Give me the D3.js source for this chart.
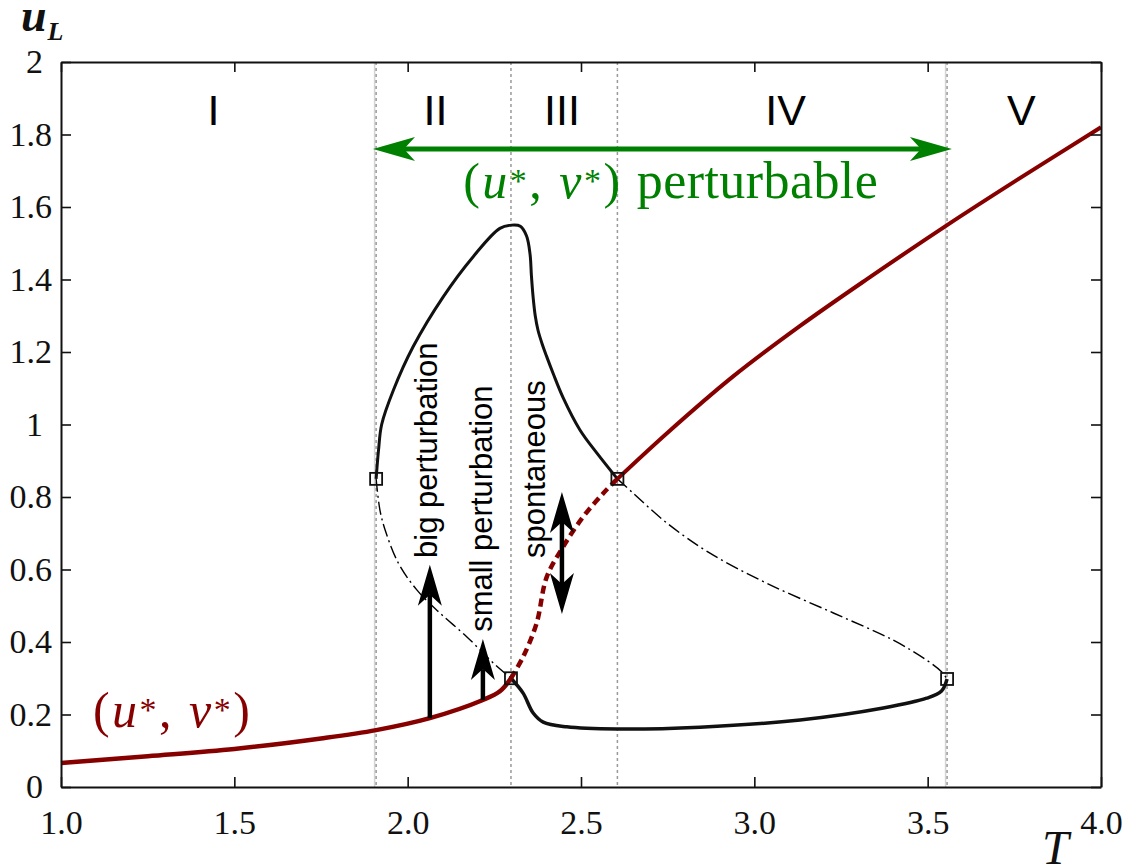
<!DOCTYPE html>
<html>
<head>
<meta charset="utf-8">
<script src="https://cdn.jsdelivr.net/npm/d3@7"></script>
<style>
  body { margin: 0; background: #fff; }
</style>
</head>
<body>
<div id="chart"></div>
<script>
// Bifurcation diagram u_L vs T, drawn with D3

// axis ticks
const xTickValues = [1.0, 1.5, 2.0, 2.5, 3.0, 3.5, 4.0];
const xTickLabels = ["1.0", "1.5", "2.0", "2.5", "3.0", "3.5", "4.0"];
const yTickValues = [0, 0.2, 0.4, 0.6, 0.8, 1.0, 1.2, 1.4, 1.6, 1.8, 2.0];
const yTickLabels = ["0", "0.2", "0.4", "0.6", "0.8", "1", "1.2", "1.4", "1.6", "1.8", "2"];

// regions
const regionBounds = [1.909, 2.298, 2.605, 3.556];
const regionNames = ["I", "II", "III", "IV", "V"];
const regionCenters = [1.44, 2.08, 2.445, 3.09, 3.77];

// fixed point (u*, v*) branch [T, u]
const redStableLow = [[1.0, 0.066], [1.25, 0.085], [1.5, 0.105], [1.75, 0.134], [1.909, 0.157],
  [2.064, 0.19], [2.217, 0.240], [2.266, 0.264], [2.298, 0.30]];
const redUnstable = [[2.298, 0.30], [2.333, 0.359], [2.372, 0.452], [2.401, 0.579], [2.448, 0.662],
  [2.506, 0.745], [2.565, 0.811], [2.605, 0.85]];
const redStableHigh = [[2.605, 0.85], [2.748, 0.976], [2.938, 1.132], [3.132, 1.272], [3.325, 1.401],
  [3.556, 1.550], [3.757, 1.674], [4.0, 1.82]];

// limit cycle branches [T, u]
const cycleUpper = [[1.909, 0.85], [1.916, 0.93], [1.925, 1.0], [1.959, 1.095], [2.016, 1.215],
  [2.103, 1.353], [2.189, 1.463], [2.266, 1.541], [2.30, 1.550], [2.325, 1.547], [2.343, 1.52],
  [2.353, 1.47], [2.357, 1.41], [2.362, 1.35], [2.368, 1.30], [2.376, 1.26], [2.387, 1.225],
  [2.40, 1.19], [2.42, 1.14], [2.448, 1.075], [2.497, 0.985], [2.546, 0.921], [2.605, 0.85]];
const cycleUnstableLeft = [[1.909, 0.85], [1.920, 0.764], [1.935, 0.709], [1.973, 0.618],
  [2.027, 0.543], [2.093, 0.480], [2.171, 0.414], [2.247, 0.342], [2.298, 0.30]];
const cycleUnstableRight = [[2.605, 0.85], [2.650, 0.811], [2.748, 0.728], [2.872, 0.645],
  [3.036, 0.562], [3.228, 0.480], [3.401, 0.405], [3.497, 0.350], [3.540, 0.318], [3.556, 0.298]];
const cycleLower = [[2.298, 0.30], [2.333, 0.259], [2.362, 0.204], [2.391, 0.179], [2.459, 0.166],
  [2.603, 0.160], [2.843, 0.165], [3.132, 0.185], [3.372, 0.218], [3.497, 0.245], [3.540, 0.265],
  [3.556, 0.298]];

// bifurcation points
const bifPoints = [[1.909, 0.85], [2.298, 0.30], [2.605, 0.85], [3.556, 0.298]];

// perturbation arrows: T, from u, to u
const bigArrow = [2.064, 0.19, 0.613];
const smallArrow = [2.217, 0.240, 0.408];
const spontArrow = [2.445, 0.477, 0.814];
const greenArrow = [1.900, 3.570, 1.76];

const W = 1127, H = 867;
const plot = { left: 61, right: 1101, top: 62, bottom: 787 };

const svg = d3.select('#chart').append('svg')
  .attr('width', W).attr('height', H)
  .style('font-family', '"Liberation Sans", Arial, sans-serif');

const x = d3.scaleLinear().domain([1, 4]).range([plot.left, plot.right]);
const y = d3.scaleLinear().domain([0, 2]).range([plot.bottom, plot.top]);

const RED = '#870000';
const GREEN = '#008000';
const serif = '"Liberation Serif", "Times New Roman", serif';

// region separators
const sepG = svg.append('g');
[regionBounds[0], regionBounds[3]].forEach(t => {
  sepG.append('line')
    .attr('x1', x(t) - 1.5).attr('x2', x(t) - 1.5)
    .attr('y1', plot.top).attr('y2', plot.bottom)
    .attr('stroke', '#d4d4d4').attr('stroke-width', 1.5);
});
regionBounds.forEach(t => {
  sepG.append('line')
    .attr('x1', x(t)).attr('x2', x(t))
    .attr('y1', plot.top).attr('y2', plot.bottom)
    .attr('stroke', '#999').attr('stroke-width', 1.5)
    .attr('stroke-dasharray', '3,3');
});

const line = d3.line()
  .x(d => x(d[0])).y(d => y(d[1]))
  .curve(d3.curveCatmullRom.alpha(0.5));

function drawCurve(data, color, width, dash) {
  const p = svg.append('path')
    .datum(data)
    .attr('d', line)
    .attr('fill', 'none')
    .attr('stroke', color)
    .attr('stroke-width', width)
    .attr('stroke-linejoin', 'round');
  if (dash) p.attr('stroke-dasharray', dash);
  return p;
}

drawCurve(cycleUnstableLeft, '#000', 1.4, '13,4,2,4');
drawCurve(cycleUnstableRight, '#000', 1.4, '13,4,2,4');
drawCurve(cycleUpper, '#111', 3);
drawCurve(cycleLower, '#111', 3.5);
drawCurve(redStableLow, RED, 4.5);
drawCurve(redUnstable, RED, 4.5, '8,5');
drawCurve(redStableHigh, RED, 4);

// bifurcation squares
svg.append('g').selectAll('rect')
  .data(bifPoints)
  .join('rect')
  .attr('x', d => x(d[0]) - 6).attr('y', d => y(d[1]) - 6)
  .attr('width', 12).attr('height', 12)
  .attr('fill', 'none').attr('stroke', '#111').attr('stroke-width', 1.8);

// arrow helper
function arrowHead(g, tx, ty, ux, uy, color, len, half, notch) {
  const px = -uy, py = ux;
  const bx = tx - ux * len, by = ty - uy * len;
  const nx = tx - ux * (len - notch), ny = ty - uy * (len - notch);
  g.append('path')
    .attr('d', `M${tx},${ty}L${bx + px * half},${by + py * half}L${nx},${ny}L${bx - px * half},${by - py * half}Z`)
    .attr('fill', color);
}

function drawArrow(x1, y1, x2, y2, color, width, len, half, notch, both) {
  const g = svg.append('g');
  const L = Math.hypot(x2 - x1, y2 - y1);
  const ux = (x2 - x1) / L, uy = (y2 - y1) / L;
  const s = both ? len - notch : 0;
  g.append('line')
    .attr('x1', x1 + ux * s).attr('y1', y1 + uy * s)
    .attr('x2', x2 - ux * (len - notch)).attr('y2', y2 - uy * (len - notch))
    .attr('stroke', color).attr('stroke-width', width);
  arrowHead(g, x2, y2, ux, uy, color, len, half, notch);
  if (both) arrowHead(g, x1, y1, -ux, -uy, color, len, half, notch);
}

drawArrow(x(bigArrow[0]), y(bigArrow[1]), x(bigArrow[0]), y(bigArrow[2]), '#000', 4.5, 41, 12, 11, false);
drawArrow(x(smallArrow[0]), y(smallArrow[1]), x(smallArrow[0]), y(smallArrow[2]), '#000', 4.5, 41, 12, 11, false);
drawArrow(x(spontArrow[0]), y(spontArrow[1]), x(spontArrow[0]), y(spontArrow[2]), '#000', 4.5, 41, 12, 11, true);
drawArrow(x(greenArrow[0]), y(greenArrow[2]), x(greenArrow[1]), y(greenArrow[2]), GREEN, 5, 42, 12, 11, true);

// region labels
svg.append('g').selectAll('text')
  .data(regionNames)
  .join('text')
  .attr('x', (d, i) => x(regionCenters[i]))
  .attr('y', y(1.826))
  .attr('text-anchor', 'middle')
  .attr('font-size', 43)
  .text(d => d);

// rotated annotations
function rotLabel(t, u, txt) {
  svg.append('text')
    .attr('transform', `translate(${x(t)},${y(u)}) rotate(-90)`)
    .attr('font-size', 31)
    .text(txt);
}
rotLabel(2.085, 0.632, 'big perturbation');
rotLabel(2.243, 0.428, 'small perturbation');
rotLabel(2.396, 0.632, 'spontaneous');

// (u*, v*) math label
function mathLabel(t, u, color) {
  const tx = svg.append('text')
    .attr('x', x(t)).attr('y', y(u))
    .attr('fill', color)
    .attr('font-family', serif)
    .attr('font-size', 50)
    .attr('textLength', 157).attr('lengthAdjust', 'spacing');
  tx.append('tspan').text('(');
  tx.append('tspan').attr('font-style', 'italic').text('u');
  tx.append('tspan').attr('font-size', 34).attr('dy', -6).text('*');
  tx.append('tspan').attr('dy', 6).text(', ');
  tx.append('tspan').attr('font-style', 'italic').text('v');
  tx.append('tspan').attr('font-size', 34).attr('dy', -6).text('*');
  tx.append('tspan').attr('dy', 6).text(')');
  return tx;
}
mathLabel(2.16, 1.625, GREEN);
svg.append('text')
  .attr('x', x(2.661)).attr('y', y(1.625))
  .attr('fill', GREEN)
  .attr('font-family', serif)
  .attr('font-size', 52)
  .attr('textLength', 241).attr('lengthAdjust', 'spacing')
  .text('perturbable');
mathLabel(1.092, 0.166, RED);

// axes
const xAxis = svg.append('g')
  .attr('transform', `translate(0,${plot.bottom})`)
  .call(d3.axisBottom(x).tickValues(xTickValues)
    .tickFormat((d, i) => xTickLabels[i]).tickSizeInner(-10).tickSizeOuter(0).tickPadding(23));
const yAxis = svg.append('g')
  .attr('transform', `translate(${plot.left},0)`)
  .call(d3.axisLeft(y).tickValues(yTickValues)
    .tickFormat((d, i) => yTickLabels[i]).tickSizeInner(-10).tickSizeOuter(0).tickPadding(9));
const xTop = svg.append('g')
  .attr('transform', `translate(0,${plot.top})`)
  .call(d3.axisTop(x).tickValues(xTickValues).tickFormat('').tickSizeInner(-10).tickSizeOuter(0));
const yRight = svg.append('g')
  .attr('transform', `translate(${plot.right},0)`)
  .call(d3.axisRight(y).tickValues(yTickValues).tickFormat('').tickSizeInner(-10).tickSizeOuter(0));

[xAxis, yAxis, xTop, yRight].forEach(a => {
  a.selectAll('.domain').attr('stroke', '#111').attr('stroke-width', 2);
  a.selectAll('.tick line').attr('stroke', '#111').attr('stroke-width', 1.6);
  a.selectAll('text')
    .attr('font-family', serif)
    .attr('font-size', 34)
    .attr('fill', '#111');
});
yAxis.selectAll('.tick text').attr('dx', d => (Number.isInteger(d) ? -9 : 0));

// axis titles
const ul = svg.append('text')
  .attr('x', 21).attr('y', 31)
  .attr('font-family', serif)
  .attr('font-style', 'italic').attr('font-weight', 'bold')
  .attr('font-size', 46).attr('fill', '#111');
ul.append('tspan').text('u');
ul.append('tspan').attr('font-size', 26).attr('dy', 9).attr('dx', 1).text('L');

svg.append('text')
  .attr('x', 1042).attr('y', 864)
  .attr('font-family', serif)
  .attr('font-style', 'italic')
  .attr('font-size', 48).attr('fill', '#111')
  .text('T');
</script>
</body>
</html>
